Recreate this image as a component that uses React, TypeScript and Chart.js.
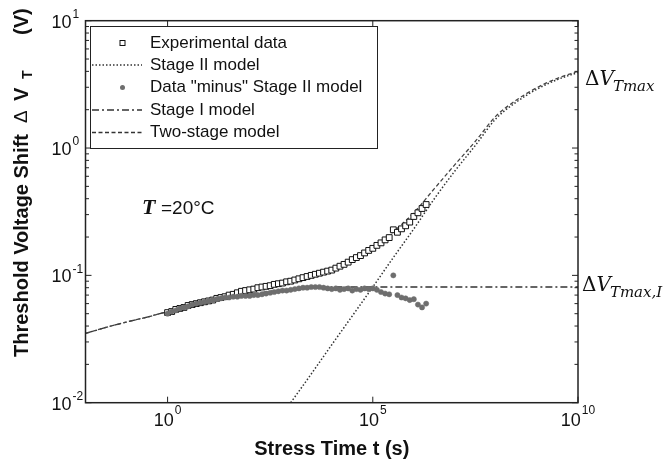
import React, { useEffect, useRef } from 'react';
import { Chart, registerables } from 'chart.js';
Chart.register(...registerables);

// log10 of stress time (s) for measured points
const dataLogTimes = [
  0, 0.1, 0.2, 0.3, 0.4, 0.5, 0.6, 0.7, 0.8, 0.9,
  1.0, 1.1, 1.2, 1.3, 1.4, 1.5, 1.6, 1.7, 1.8, 1.9,
  2.0, 2.1, 2.2, 2.3, 2.4, 2.5, 2.6, 2.7, 2.8, 2.9,
  3.0, 3.1, 3.2, 3.3, 3.4, 3.5, 3.6, 3.7, 3.8, 3.9,
  4.0, 4.1, 4.2, 4.3, 4.4, 4.5, 4.6, 4.7, 4.8, 4.9,
  5.0, 5.1, 5.2, 5.3, 5.4, 5.5, 5.6, 5.7, 5.8, 5.9,
  6.0, 6.1, 6.2, 6.3,
];
const experimentalData = [
  0.051, 0.052, 0.054, 0.055, 0.056, 0.058, 0.059, 0.060, 0.061, 0.062,
  0.063, 0.064, 0.066, 0.067, 0.068, 0.070, 0.071, 0.073, 0.075, 0.076,
  0.077, 0.078, 0.080, 0.081, 0.082, 0.083, 0.085, 0.086, 0.087, 0.089,
  0.090, 0.092, 0.094, 0.096, 0.098, 0.100, 0.102, 0.104, 0.106, 0.108,
  0.110, 0.114, 0.118, 0.122, 0.127, 0.133, 0.138, 0.143, 0.150, 0.157,
  0.163, 0.172, 0.180, 0.190, 0.198, 0.228, 0.218, 0.232, 0.245, 0.262,
  0.290, 0.310, 0.335, 0.360,
];
const minusStageIIData = [
  0.050, 0.052, 0.053, 0.055, 0.056, 0.057, 0.059, 0.060, 0.061, 0.062,
  0.063, 0.064, 0.065, 0.066, 0.067, 0.067, 0.068, 0.068, 0.069, 0.069,
  0.069, 0.070, 0.070, 0.071, 0.072, 0.073, 0.074, 0.075, 0.076, 0.076,
  0.077, 0.078, 0.079, 0.080, 0.080, 0.081, 0.081, 0.081, 0.080, 0.079,
  0.078, 0.079, 0.077, 0.078, 0.079, 0.076, 0.078, 0.077, 0.079, 0.078,
  0.079, 0.077, 0.074, 0.072, 0.071, 0.100, 0.070, 0.067, 0.066, 0.064,
  0.065, 0.059, 0.056, 0.060,
];

const stageILogTimes = [-2, -1.5, -1, -0.5, 0, 0.5, 1, 1.5, 2, 2.5, 3, 3.5, 4, 5, 6, 7, 8, 9, 10];
const stageIValues = [0.035, 0.039, 0.043, 0.047, 0.052, 0.057, 0.062, 0.067, 0.071, 0.075, 0.078, 0.080, 0.081, 0.081, 0.081, 0.081, 0.081, 0.081, 0.081];

const stageIILogTimes = [3, 3.5, 4, 4.5, 5, 5.5, 6, 6.5, 7, 7.5, 8, 8.5, 9, 9.5, 10];
const stageIIValues = [0.01, 0.0168, 0.0285, 0.048, 0.081, 0.138, 0.232, 0.40, 0.66, 1.05, 1.7, 2.3, 2.9, 3.45, 3.92];

const twoStageLogTimes = [-2, -1.5, -1, -0.5, 0, 0.5, 1, 1.5, 2, 2.5, 3, 3.5, 4, 4.5, 5, 5.5, 6, 6.5, 7, 7.5, 8, 8.5, 9, 9.5, 10];
const twoStageValues = [0.035, 0.039, 0.043, 0.047, 0.052, 0.057, 0.062, 0.068, 0.075, 0.082, 0.090, 0.099, 0.110, 0.130, 0.162, 0.22, 0.31, 0.48, 0.74, 1.13, 1.78, 2.38, 2.98, 3.53, 4.0];

const xTickExps = [0, 5, 10];
const yTickExps = [-2, -1, 0, 1];

const legendLabels = ['Experimental data', 'Stage II model', 'Data "minus" Stage II model', 'Stage I model', 'Two-stage model'];

const SANS = '"Liberation Sans", Arial, sans-serif';
const SERIF = '"DejaVu Serif", "Liberation Serif", serif';

const pts = (lt: number[], v: number[]) => lt.map((l, i) => ({ x: Math.pow(10, l), y: v[i] }));

const DOT = [1.5, 2];
const DASHDOT = [7, 3, 2, 3];
const DASH = [4, 2.5];

const decorPlugin = {
  id: 'decor',
  afterDraw(chart: any) {
    const ctx = chart.ctx as CanvasRenderingContext2D;
    const { left, right, top, bottom } = chart.chartArea;
    const xs = chart.scales.x;
    const ys = chart.scales.y;
    ctx.save();
    ctx.strokeStyle = '#222';
    ctx.fillStyle = '#111';
    ctx.lineWidth = 1.5;
    ctx.setLineDash([]);
    ctx.strokeRect(left, top, right - left, bottom - top);

    // ticks
    ctx.beginPath();
    for (let d = -2; d <= 1; d++) {
      for (let k = 1; k <= 9; k++) {
        const v = k * Math.pow(10, d);
        if (v > 10.0001) break;
        const py = ys.getPixelForValue(v);
        const len = k === 1 ? 6 : 3.5;
        ctx.moveTo(left, py); ctx.lineTo(left + len, py);
        ctx.moveTo(right, py); ctx.lineTo(right - len, py);
      }
    }
    for (const e of xTickExps) {
      const px = xs.getPixelForValue(Math.pow(10, e));
      ctx.moveTo(px, bottom); ctx.lineTo(px, bottom - 6);
      ctx.moveTo(px, top); ctx.lineTo(px, top + 6);
    }
    ctx.lineWidth = 1;
    ctx.stroke();

    // tick labels
    ctx.textBaseline = 'middle';
    for (const e of yTickExps) {
      const py = ys.getPixelForValue(Math.pow(10, e));
      ctx.font = `18px ${SANS}`;
      ctx.textAlign = 'right';
      ctx.fillText('10', 71.5, py + 2);
      ctx.font = `12px ${SANS}`;
      ctx.textAlign = 'left';
      ctx.fillText(String(e), 72.5, py - 6);
    }
    for (const e of xTickExps) {
      const px = xs.getPixelForValue(Math.pow(10, e));
      ctx.font = `18px ${SANS}`;
      const w1 = ctx.measureText('10').width;
      ctx.font = `12px ${SANS}`;
      const w2 = ctx.measureText(String(e)).width;
      const start = px - (w1 + w2 + 1) / 2;
      ctx.textAlign = 'left';
      ctx.font = `18px ${SANS}`;
      ctx.fillText('10', start, 421.5);
      ctx.font = `12px ${SANS}`;
      ctx.fillText(String(e), start + w1 + 1, 411);
    }

    // axis titles
    ctx.font = `bold 20px ${SANS}`;
    ctx.textAlign = 'center';
    ctx.fillText('Stress Time t (s)', (left + right) / 2, 449);

    ctx.save();
    ctx.translate(22, 357);
    ctx.rotate(-Math.PI / 2);
    ctx.textAlign = 'left';
    ctx.font = `bold 20px ${SANS}`;
    ctx.fillText('Threshold Voltage Shift', 0, 0);
    ctx.font = `19px ${SANS}`;
    ctx.fillText('\u0394', 234, 0);
    ctx.font = `bold 20px ${SANS}`;
    ctx.fillText('V', 256, 0);
    ctx.font = `bold 14px ${SANS}`;
    ctx.fillText('T', 278, 6);
    ctx.font = `bold 20px ${SANS}`;
    ctx.fillText('(V)', 322, 0);
    ctx.restore();

    // legend
    ctx.fillStyle = '#fff';
    ctx.fillRect(90.5, 26.5, 287, 122);
    ctx.strokeStyle = '#222';
    ctx.lineWidth = 1;
    ctx.strokeRect(90.5, 26.5, 287, 122);
    const rows = [43, 65, 87.5, 110, 132.5];
    ctx.fillStyle = '#111';
    ctx.font = `17px ${SANS}`;
    ctx.textAlign = 'left';
    ctx.textBaseline = 'middle';
    legendLabels.forEach((lab, i) => ctx.fillText(lab, 150, rows[i]));
    ctx.fillStyle = '#fff';
    ctx.strokeStyle = '#111';
    ctx.lineWidth = 1;
    ctx.fillRect(120, rows[0] - 2.5, 5, 5);
    ctx.strokeRect(120, rows[0] - 2.5, 5, 5);
    ctx.fillStyle = '#6e6e6e';
    ctx.beginPath();
    ctx.arc(122.5, rows[2], 2.5, 0, Math.PI * 2);
    ctx.fill();
    const sample = (y: number, dash: number[], w: number) => {
      ctx.beginPath();
      ctx.setLineDash(dash);
      ctx.lineWidth = w;
      ctx.strokeStyle = '#333';
      ctx.moveTo(92, y); ctx.lineTo(142, y);
      ctx.stroke();
    };
    sample(rows[1], DOT, 1.5);
    sample(rows[3], DASHDOT, 1.3);
    sample(rows[4], DASH, 1.3);
    ctx.setLineDash([]);

    // annotations
    ctx.fillStyle = '#111';
    ctx.textBaseline = 'alphabetic';
    ctx.font = `italic bold 22px "Liberation Serif", serif`;
    ctx.fillText('T', 142, 214);
    ctx.font = `19px ${SANS}`;
    ctx.fillText('=20\u00B0C', 161, 214);

    const rightLabel = (x: number, base: number, sub: string) => {
      ctx.font = `20px ${SERIF}`;
      ctx.fillText('\u0394', x, base);
      const wd = ctx.measureText('\u0394').width;
      ctx.font = `italic 20px ${SERIF}`;
      ctx.fillText('V', x + wd, base);
      const wv = ctx.measureText('V').width;
      ctx.font = `italic 15px ${SERIF}`;
      ctx.fillText(sub, x + wd + wv - 1, base + 6);
    };
    rightLabel(585, 85, 'Tmax');
    rightLabel(582, 291, 'Tmax,I');
    ctx.restore();
  },
};

export default function App() {
  const ref = useRef<HTMLCanvasElement>(null);
  useEffect(() => {
    if (!ref.current) return;
    const chart = new Chart(ref.current, {
      type: 'scatter',
      data: {
        datasets: [
          {
            label: 'Data "minus" Stage II model',
            data: pts(dataLogTimes, minusStageIIData),
            pointRadius: 2.6,
            pointStyle: 'circle',
            pointBackgroundColor: '#6e6e6e',
            pointBorderColor: '#6e6e6e',
            pointBorderWidth: 0.5,
            showLine: false,
          },
          {
            label: 'Experimental data',
            data: pts(dataLogTimes, experimentalData),
            pointRadius: 4.1,
            pointStyle: 'rect',
            pointBackgroundColor: '#fff',
            pointBorderColor: '#111',
            pointBorderWidth: 1,
            showLine: false,
          },
          {
            label: 'Two-stage model',
            data: pts(twoStageLogTimes, twoStageValues),
            showLine: true,
            pointRadius: 0,
            borderColor: '#444',
            borderWidth: 1.3,
            borderDash: DASH,
            cubicInterpolationMode: 'monotone',
          },
          {
            label: 'Stage II model',
            data: pts(stageIILogTimes, stageIIValues),
            showLine: true,
            pointRadius: 0,
            borderColor: '#333',
            borderWidth: 1.5,
            borderDash: DOT,
            cubicInterpolationMode: 'monotone',
          },
          {
            label: 'Stage I model',
            data: pts(stageILogTimes, stageIValues),
            showLine: true,
            pointRadius: 0,
            borderColor: '#333',
            borderWidth: 1.3,
            borderDash: DASHDOT,
            cubicInterpolationMode: 'monotone',
          },
        ],
      },
      options: {
        responsive: false,
        animation: false,
        layout: { padding: { left: 85.5, right: 87, top: 20.7, bottom: 58.3 } },
        scales: {
          x: { type: 'logarithmic', min: 1e-2, max: 1e10, display: false },
          y: { type: 'logarithmic', min: 1e-2, max: 10, display: false },
        },
        plugins: { legend: { display: false }, tooltip: { enabled: false } },
      } as any,
      plugins: [decorPlugin],
    });
    return () => chart.destroy();
  }, []);
  return (
    <div style={{ position: 'absolute', left: 0, top: 0, width: 665, height: 461, background: '#fff' }}>
      <canvas ref={ref} width={665} height={461} style={{ display: 'block' }} />
    </div>
  );
}
